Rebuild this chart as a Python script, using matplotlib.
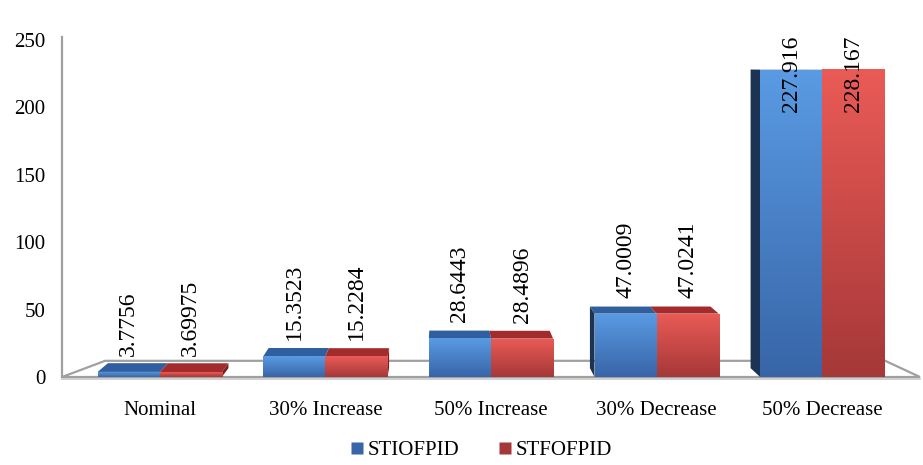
import numpy as np
import matplotlib
matplotlib.use('Agg')
import matplotlib.pyplot as plt
from matplotlib.colors import LinearSegmentedColormap
from matplotlib.patches import Polygon, Rectangle
from matplotlib.lines import Line2D

plt.rcParams['font.family'] = ['Liberation Serif', 'DejaVu Serif']

categories = ['Nominal', '30% Increase', '50% Increase', '30% Decrease', '50% Decrease']
series_names = ['STIOFPID', 'STFOFPID']
stiofpid = [3.7756, 15.3523, 28.6443, 47.0009, 227.916]
stfofpid = [3.69975, 15.2284, 28.4896, 47.0241, 228.167]
label_text = [['3.7756', '15.3523', '28.6443', '47.0009', '227.916'],
              ['3.69975', '15.2284', '28.4896', '47.0241', '228.167']]
yticks = [0, 50, 100, 150, 200, 250]

# colours: front gradient (top, bottom), side face, top face
front = [('#5a9be3', '#3865a8'), ('#ea5b56', '#a53838')]
side = ['#1c3354', '#7a2020']
topc = ['#2f5f9f', '#a32b2b']

# fake perspective for the 3d boxes
xv, yv = 1.7, 235.0
fx, fy = 0.03, 0.028
w = 0.375
xlim = (-0.59, 4.59)
ylim = (0, 250)

fig = plt.figure(figsize=(9.23, 4.65), dpi=100)
ax = fig.add_axes([62 / 923, 88 / 465, 858 / 923, 337 / 465])


def depth(x, y):
    return x + fx * (xv - x), y + fy * (yv - y)


# floor slab
floor = Polygon([(xlim[0], 0), (xlim[0] + 0.26, 12), (xlim[1] - 0.21, 12), (xlim[1], 0)],
                closed=True, facecolor='white', edgecolor='#a0a0a0', lw=1.6,
                clip_on=False, zorder=1)
ax.add_patch(floor)
ax.plot([xlim[0], xlim[1]], [-1.6, -1.6], color='#c8c8c8', lw=1.2, clip_on=False, zorder=1)

grad = np.linspace(1, 0, 256).reshape(-1, 1)
x = np.arange(len(categories))
for i, xc in enumerate(x):
    vals = [stiofpid[i], stfofpid[i]]
    x_left = xc - w
    x_right = xc + w
    # side face on the outer end facing away from the vanishing point
    if x_left > xv:
        v = vals[0]
        bx, by = depth(x_left, 0)
        tx, ty = depth(x_left, v)
        ax.add_patch(Polygon([(x_left, 0), (x_left, v), (tx, ty), (bx, by)],
                             closed=True, facecolor=side[0], edgecolor='none', zorder=2))
    if x_right < xv:
        v = vals[1]
        bx, by = depth(x_right, 0)
        tx, ty = depth(x_right, v)
        ax.add_patch(Polygon([(x_right, 0), (x_right, v), (tx, ty), (bx, by)],
                             closed=True, facecolor=side[1], edgecolor='none', zorder=2))
    for s in range(2):
        x0 = xc - w + s * w
        v = vals[s]
        # top face
        ax.add_patch(Polygon([(x0, v), (x0 + w, v), depth(x0 + w, v), depth(x0, v)],
                             closed=True, facecolor=topc[s], edgecolor='none', zorder=3))
        # front face with vertical gradient
        cmap = LinearSegmentedColormap.from_list('f%d' % s, [front[s][1], front[s][0]])
        rect = Rectangle((x0, 0), w, v, facecolor='none', edgecolor='none', zorder=4)
        ax.add_patch(rect)
        im = ax.imshow(grad, extent=[x0, x0 + w, 0, v], aspect='auto', cmap=cmap,
                       vmin=0, vmax=1, zorder=4, interpolation='bilinear')
        im.set_clip_path(rect)
        # value label
        if v + 58 > ylim[1]:
            ax.annotate(label_text[s][i], (x0 + w / 2, ylim[1]), xytext=(0, 3),
                        textcoords='offset points', rotation=90, ha='center', va='top',
                        fontsize=17, zorder=6)
        else:
            ax.annotate(label_text[s][i], (x0 + w / 2, v), xytext=(0, 11.5),
                        textcoords='offset points', rotation=90, ha='center', va='bottom',
                        fontsize=17, zorder=6)

ax.set_xlim(*xlim)
ax.set_ylim(*ylim)
ax.set_xticks(x)
ax.set_xticklabels(categories)
ax.set_yticks(yticks)
ax.tick_params(axis='x', length=0, pad=17, labelsize=15)
ax.tick_params(axis='y', length=0, pad=12, labelsize=15)
for sp in ['top', 'right', 'bottom']:
    ax.spines[sp].set_visible(False)
ax.spines['left'].set_color('#a0a0a0')
ax.spines['left'].set_linewidth(1.6)
ax.spines['left'].set_bounds(0, 252)
ax.patch.set_alpha(0)

handles = [Line2D([], [], marker='s', linestyle='none', markersize=8,
                  markerfacecolor=front[s][1], markeredgecolor='none') for s in range(2)]
fig.legend(handles, series_names, loc='lower center', bbox_to_anchor=(0.52, -0.03),
           ncol=2, frameon=False, fontsize=15, handletextpad=0.1, columnspacing=1.8,
           handlelength=0.8)

fig.savefig('out.png', dpi=100)
